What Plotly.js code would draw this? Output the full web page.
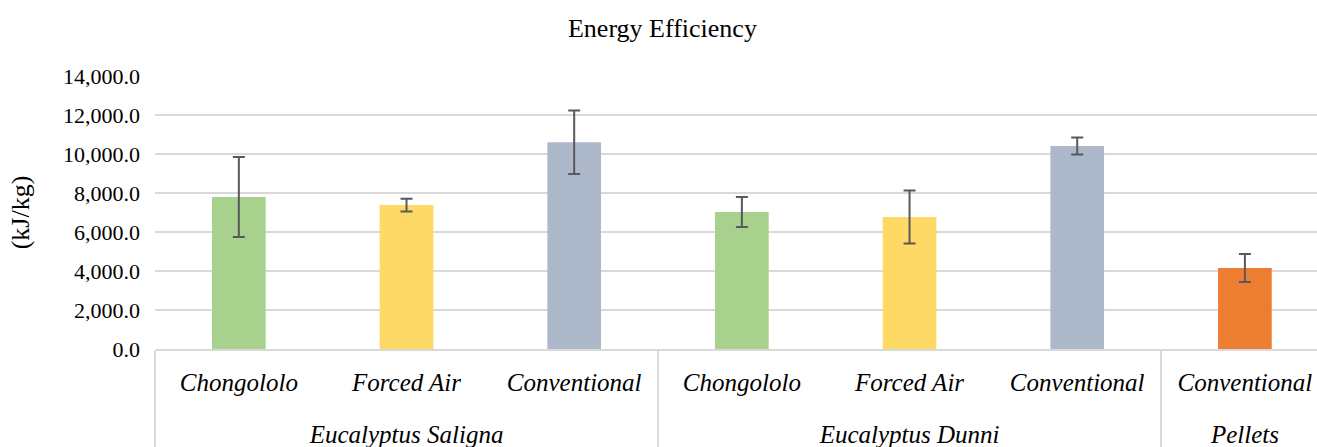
<!DOCTYPE html>
<html>
<head>
<meta charset="utf-8">
<script src="https://cdn.plot.ly/plotly-3.0.1.min.js"></script>
<style>html,body{margin:0;padding:0;background:#fff;overflow:hidden;}#chart{width:1317px;height:447px;}</style>
</head>
<body>
<div id="chart"></div>
<script>
const groups = ["Eucalyptus Saligna","Eucalyptus Saligna","Eucalyptus Saligna","Eucalyptus Dunni","Eucalyptus Dunni","Eucalyptus Dunni","Pellets"];
const methods = ["Chongololo","Forced Air","Conventional","Chongololo","Forced Air","Conventional","Conventional"];
const values = [7800, 7380, 10600, 7030, 6770, 10410, 4150];
const errors = [2050, 330, 1630, 770, 1360, 430, 720];
const colors = ["#A9D18E","#FFD966","#ADB9CA","#A9D18E","#FFD966","#ADB9CA","#ED7D31"];
const yTicks = [0,2000,4000,6000,8000,10000,12000,14000];

const font = "Palatino Linotype, Book Antiqua, Liberation Serif, serif";

const trace = {
  type: "bar",
  x: [groups.map(g => "<i>" + g + "</i>"), methods.map(m => "<i>" + m + "</i><br>\u00a0")],
  y: values,
  marker: {color: colors},
  width: 0.32,
  error_y: {type: "data", array: errors, visible: true, color: "#595959", thickness: 2, width: 6},
  hoverinfo: "none"
};

const layout = {
  width: 1317, height: 447,
  margin: {l: 155, r: 0, t: 76, b: 98},
  paper_bgcolor: "#fff", plot_bgcolor: "#fff",
  font: {family: font, size: 21, color: "#000"},
  title: {text: "Energy Efficiency", x: 0.503, xref: "container", y: 0.937, yref: "container", xanchor: "center", yanchor: "middle", font: {family: font, size: 26, color: "#000"}},
  showlegend: false,
  xaxis: {
    type: "multicategory",
    range: [-0.5, 6.43],
    showgrid: false,
    showline: true, linecolor: "#D9D9D9", linewidth: 2,
    showdividers: true, dividercolor: "#D9D9D9", dividerwidth: 2,
    tickfont: {family: font, size: 25, color: "#000"},
    ticks: "",
    ticklabelstandoff: 10
  },
  yaxis: {
    range: [0, 14000],
    tickvals: yTicks,
    ticktext: yTicks.map(v => v.toLocaleString("en-US", {minimumFractionDigits: 1, maximumFractionDigits: 1})),
    showgrid: true, gridcolor: "#D9D9D9", gridwidth: 2,
    zeroline: false, showline: false,
    ticks: "", ticklen: 0,
    ticklabelstandoff: 14,
    tickfont: {family: font, size: 22, color: "#000"},
    title: {text: "(kJ/kg)", font: {family: font, size: 26, color: "#000"}, standoff: 25}
  }
};

Plotly.newPlot("chart", [trace], layout, {displayModeBar: false, staticPlot: true});
</script>
</body>
</html>
